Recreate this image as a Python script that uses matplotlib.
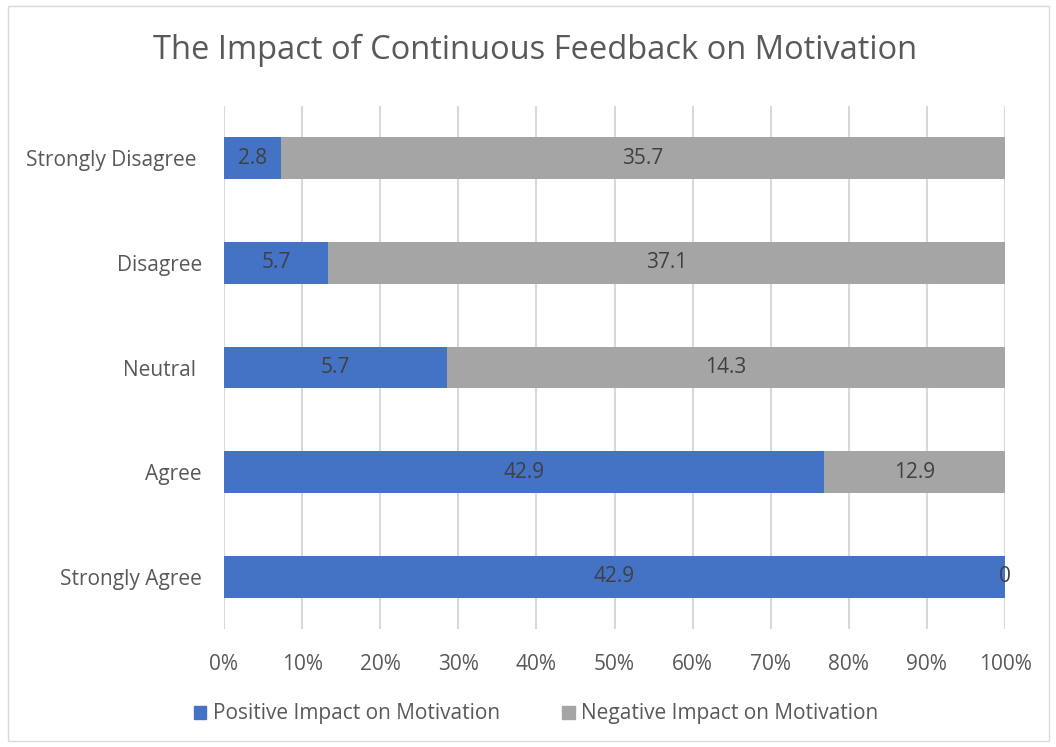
import numpy as np
import matplotlib
matplotlib.use("Agg")
import matplotlib.pyplot as plt
from matplotlib.patches import Rectangle, Patch

plt.rcParams['font.family'] = ['Open Sans', 'DejaVu Sans']

# data (bottom to top)
categories = ["Strongly Agree", "Agree", "Neutral ", "Disagree", "Strongly Disagree "]
positive = [42.9, 42.9, 5.7, 5.7, 2.8]
negative = [0, 12.9, 14.3, 37.1, 35.7]

blue = "#4472C4"
gray = "#A5A5A5"
txt = "#595959"

W, H = 1056, 747
fig = plt.figure(figsize=(W / 100, H / 100), dpi=100)
fig.patch.set_facecolor("white")

# chart border
fig.patches.append(Rectangle((8 / W, 6 / H), (1049 - 8) / W, (741 - 6) / H,
                             transform=fig.transFigure, fill=False,
                             edgecolor="#D9D9D9", linewidth=1))

ax = fig.add_axes([224 / W, 1 - 629 / H, (1005 - 224) / W, (629 - 106) / H])

pos = np.array(positive, dtype=float)
neg = np.array(negative, dtype=float)
tot = pos + neg
pos_pct = pos / tot * 100
neg_pct = neg / tot * 100
y = np.arange(len(categories))

ax.barh(y, pos_pct, height=0.4, color=blue, zorder=2)
ax.barh(y, neg_pct, left=pos_pct, height=0.4, color=gray, zorder=2)

for i in range(len(categories)):
    ax.text(pos_pct[i] / 2, y[i], f"{positive[i]:g}", ha="center", va="center",
            fontsize=15, color="#404040", zorder=3)
    ax.text(pos_pct[i] + neg_pct[i] / 2, y[i], f"{negative[i]:g}", ha="center",
            va="center", fontsize=15, color="#404040", zorder=3)

ax.set_xlim(0, 100)
ax.set_ylim(-0.5, len(categories) - 0.5)
ax.set_xticks(np.arange(0, 101, 10))
ax.set_xticklabels([f"{v}%" for v in range(0, 101, 10)])
ax.set_yticks(y)
ax.set_yticklabels(categories)
ax.tick_params(length=0, labelsize=15, labelcolor=txt)
ax.tick_params(axis="x", pad=18)
ax.tick_params(axis="y", pad=16)
ax.grid(axis="x", color="#D9D9D9", linewidth=1.5, zorder=0)
ax.set_axisbelow(True)
for s in ax.spines.values():
    s.set_visible(False)

fig.text(535 / W, 1 - 50 / H, "The Impact of Continuous Feedback on Motivation",
         ha="center", va="center", fontsize=23.5, color=txt)

handles = [Patch(color=blue, label="Positive Impact on Motivation"),
           Patch(color=gray, label="Negative Impact on Motivation")]
fig.legend(handles=handles, loc="center", bbox_to_anchor=(536 / W, 1 - 714 / H),
           ncol=2, frameon=False, fontsize=15, labelcolor=txt,
           handlelength=0.6, handleheight=0.6, handletextpad=0.3,
           columnspacing=3.0)

fig.savefig("out.png", dpi=100)
